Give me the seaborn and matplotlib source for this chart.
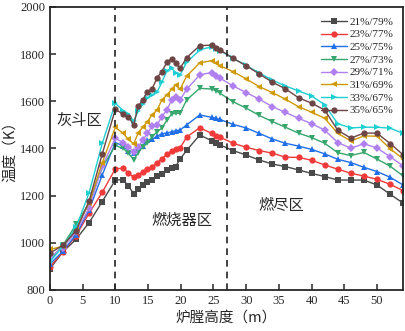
import matplotlib
matplotlib.use('agg')
import matplotlib.pyplot as plt
import seaborn as sns
import pandas as pd

# furnace height (m)
height = [0, 2, 4, 6, 8,
          10, 11.2, 12, 12.8, 13.5, 14.2, 14.9, 15.6, 16.4, 17.1, 17.9, 18.6, 19.2, 19.9, 20.9,
          22.9, 24.7, 25.4, 26,
          28, 30, 32, 34, 36, 38, 40, 42, 44, 46, 48, 50, 52, 54]

t21 = [890, 962, 1015, 1086, 1175,
       1266, 1268, 1240, 1208, 1228, 1247, 1259, 1267, 1283, 1292, 1307, 1315, 1323, 1355, 1392,
       1457, 1433, 1422, 1415,
       1391, 1372, 1351, 1334, 1323, 1309, 1294, 1281, 1266, 1266, 1266, 1245, 1206, 1168]
t23 = [898, 962, 1030, 1126, 1214,
       1314, 1316, 1296, 1278, 1287, 1302, 1313, 1322, 1340, 1357, 1375, 1390, 1396, 1402, 1448,
       1488, 1464, 1454, 1448,
       1422, 1405, 1391, 1380, 1363, 1362, 1350, 1330, 1312, 1295, 1283, 1269, 1248, 1221]
t25 = [910, 965, 1035, 1140, 1288,
       1425, 1411, 1390, 1382, 1405, 1411, 1434, 1439, 1452, 1463, 1465, 1471, 1475, 1478, 1500,
       1542, 1532, 1528, 1523,
       1502, 1487, 1464, 1440, 1422, 1410, 1396, 1377, 1354, 1340, 1320, 1302, 1278, 1245]
t27 = [925, 990, 1078, 1168, 1320,
       1412, 1401, 1380, 1352, 1382, 1408, 1422, 1450, 1471, 1486, 1521, 1546, 1549, 1549, 1606,
       1655, 1652, 1645, 1634,
       1598, 1571, 1540, 1514, 1490, 1465, 1446, 1422, 1382, 1370, 1383, 1355, 1325, 1283]
t29 = [940, 980, 1045, 1148, 1325,
       1443, 1425, 1408, 1387, 1408, 1436, 1464, 1495, 1500, 1535, 1563, 1606, 1617, 1606, 1651,
       1712, 1722, 1707, 1698,
       1665, 1637, 1609, 1577, 1553, 1528, 1505, 1478, 1425, 1401, 1420, 1402, 1365, 1326]
t31 = [972, 985, 1058, 1170, 1340,
       1490, 1464, 1439, 1419, 1467, 1490, 1514, 1542, 1563, 1606, 1627, 1651, 1669, 1651, 1707,
       1763, 1772, 1761, 1751,
       1726, 1695, 1662, 1637, 1609, 1577, 1554, 1528, 1464, 1432, 1453, 1452, 1399, 1356]
t33 = [920, 985, 1065, 1213, 1422,
       1592, 1560, 1545, 1515, 1560, 1590, 1615, 1627, 1640, 1680, 1730, 1740, 1722, 1712, 1765,
       1818, 1831, 1822, 1815,
       1782, 1752, 1720, 1690, 1665, 1644, 1623, 1585, 1505, 1487, 1490, 1490, 1486, 1464]
t35 = [956, 990, 1052, 1178, 1377,
       1566, 1545, 1535, 1500, 1580, 1606, 1641, 1652, 1700, 1726, 1766, 1781, 1761, 1740, 1785,
       1836, 1838, 1827, 1818,
       1782, 1751, 1716, 1681, 1653, 1615, 1592, 1563, 1477, 1444, 1465, 1465, 1421, 1373]

labels = ['21%/79%', '23%/77%', '25%/75%', '27%/73%',
          '29%/71%', '31%/69%', '33%/67%', '35%/65%']
series = [t21, t23, t25, t27, t29, t31, t33, t35]
colors = ['#4a4a4a', '#f03a3a', '#1f6fe8', '#36a66c',
          '#b07ff0', '#cf9a05', '#1ccfd2', '#6d4545']
markers = ['s', 'o', '^', 'v', 'D', '<', '>', 'o']

rows = []
for lab, vals in zip(labels, series):
    for h, v in zip(height, vals):
        rows.append({'height': h, 'temp': v, 'ratio': lab})
df = pd.DataFrame(rows)

sns.set_style('ticks')
serif = ['Liberation Serif', 'Noto Sans CJK SC']
cjk = ['Noto Sans CJK SC', 'DejaVu Sans']
plt.rcParams['font.family'] = serif
plt.rcParams['axes.linewidth'] = 1.3

fig = plt.figure(figsize=(4.06, 3.31), dpi=100)
ax = fig.add_axes([0.123, 0.124, 0.870, 0.855])

for lab, col, mk in zip(labels, colors, markers):
    ms = 3.8 if mk == 'D' else 4.5
    sns.lineplot(data=df[df['ratio'] == lab], x='height', y='temp', ax=ax,
                 color=col, marker=mk, markersize=ms, markeredgewidth=0,
                 linewidth=1.0, label=lab)

ax.axvline(10, color='#222222', linestyle=(0, (4, 3)), linewidth=1.2)
ax.axvline(27, color='#222222', linestyle=(0, (4, 3)), linewidth=1.2)

ax.set_xlim(0, 54)
ax.set_ylim(800, 2000)
ax.set_xticks(range(0, 55, 5))
ax.set_yticks(range(800, 2001, 200))
ax.tick_params(direction='in', length=4, width=1.1, labelsize=9,
               top=False, right=False)
for s in ax.spines.values():
    s.set_visible(True)

ax.set_xlabel('炉膛高度（m）', family=cjk, fontsize=10.5, labelpad=3)
ax.set_ylabel('温度（K）', family=cjk, fontsize=10.5)
ax.yaxis.set_label_coords(-0.092, 0.5)

ax.text(1.0, 1521, '灰斗区', family=cjk, fontsize=11, va='center')
ax.text(15.5, 1097, '燃烧器区', family=cjk, fontsize=11, va='center')
ax.text(31.8, 1160, '燃尽区', family=cjk, fontsize=11, va='center')

ax.legend(loc='upper right', frameon=False, fontsize=8, handlelength=2.3,
          handletextpad=0.25, labelspacing=0.26, borderaxespad=0.5)

plt.savefig('out.png', dpi=100)
